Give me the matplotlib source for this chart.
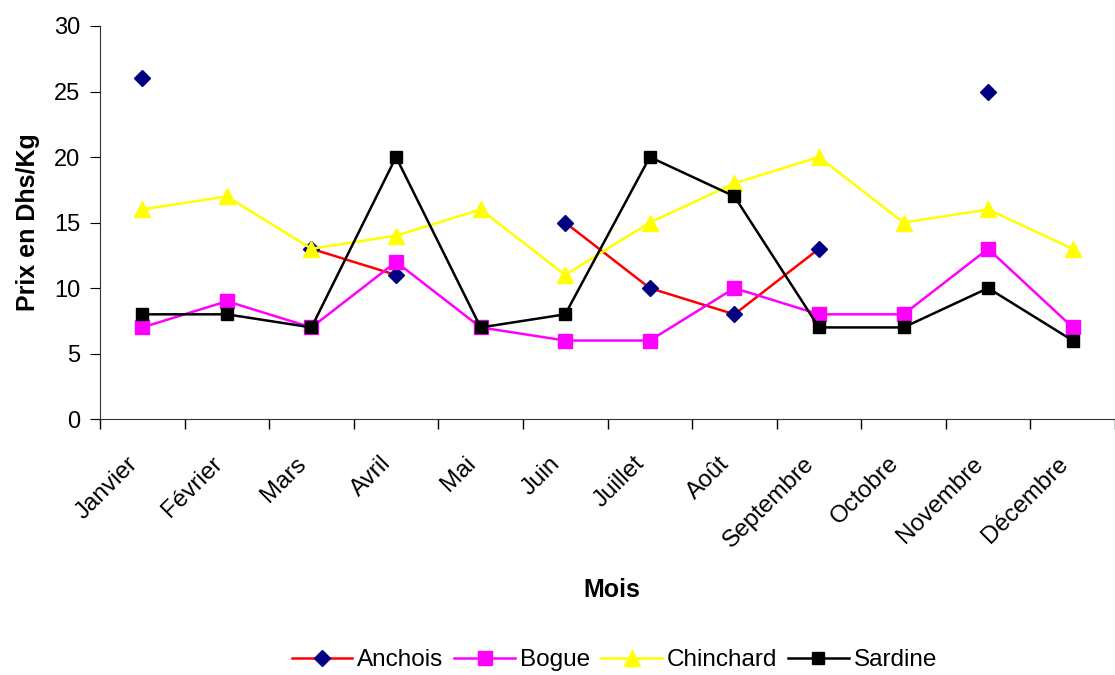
import numpy as np
import matplotlib.pyplot as plt
from matplotlib.transforms import ScaledTranslation

plt.rcParams['font.family'] = ['Liberation Sans', 'DejaVu Sans']

mois = ['Janvier', 'Février', 'Mars', 'Avril', 'Mai', 'Juin', 'Juillet',
        'Août', 'Septembre', 'Octobre', 'Novembre', 'Décembre']
anchois = [26, np.nan, 13, 11, np.nan, 15, 10, 8, 13, np.nan, 25, np.nan]
bogue = [7, 9, 7, 12, 7, 6, 6, 10, 8, 8, 13, 7]
chinchard = [16, 17, 13, 14, 16, 11, 15, 18, 20, 15, 16, 13]
sardine = [8, 8, 7, 20, 7, 8, 20, 17, 7, 7, 10, 6]

fig = plt.figure(figsize=(11.15, 6.75), dpi=100)
ax = fig.add_axes([0.0897, 0.379, 0.9103, 0.5825])

x = np.arange(len(mois))
ax.plot(x, anchois, color='#ff0000', lw=1.8, marker='D', ms=8,
        mfc='#000080', mec='#000080', label='Anchois')
ax.plot(x, bogue, color='#ff00ff', lw=1.8, marker='s', ms=9.5,
        mfc='#ff00ff', mec='#ff00ff', label='Bogue')
ax.plot(x, chinchard, color='#ffff00', lw=1.8, marker='^', ms=11,
        mfc='#ffff00', mec='#ffff00', label='Chinchard')
ax.plot(x, sardine, color='#000000', lw=1.8, marker='s', ms=9,
        mfc='#000000', mec='#000000', label='Sardine')

ax.set_xlim(-0.5, len(mois) - 0.5)
ax.set_ylim(0, 30)
ax.set_yticks(np.arange(0, 31, 5))
ax.set_xticks(x)
ax.set_xticklabels(mois, rotation=45, ha='right', rotation_mode='anchor',
                   fontsize=17.5)
ax.set_xticks(np.arange(-0.5, len(mois) + 0.5, 1), minor=True)
ax.tick_params(axis='x', which='major', length=0, pad=24)
ax.tick_params(axis='x', which='minor', length=7, width=1, direction='out')
ax.tick_params(axis='y', labelsize=17, length=7, direction='out', pad=7)

# nudge the rotated month labels slightly to the left
shift = ScaledTranslation(-16 / 100, 0, fig.dpi_scale_trans)
for lbl in ax.get_xticklabels():
    lbl.set_transform(lbl.get_transform() + shift)

for s in ['top', 'right']:
    ax.spines[s].set_visible(False)
ax.spines['left'].set_color('#333333')
ax.spines['bottom'].set_color('#333333')

ax.set_ylabel('Prix en Dhs/Kg', fontsize=18, fontweight='bold', labelpad=10)
fig.text(0.549, 0.126, 'Mois', fontsize=18, fontweight='bold',
         ha='center', va='center')

fig.legend(loc='center', bbox_to_anchor=(0.551, 0.022), ncol=4, frameon=False,
           fontsize=17.5, handlelength=2.5, handletextpad=0.2,
           columnspacing=0.45, borderpad=0)

fig.savefig('out.png', dpi=100)
